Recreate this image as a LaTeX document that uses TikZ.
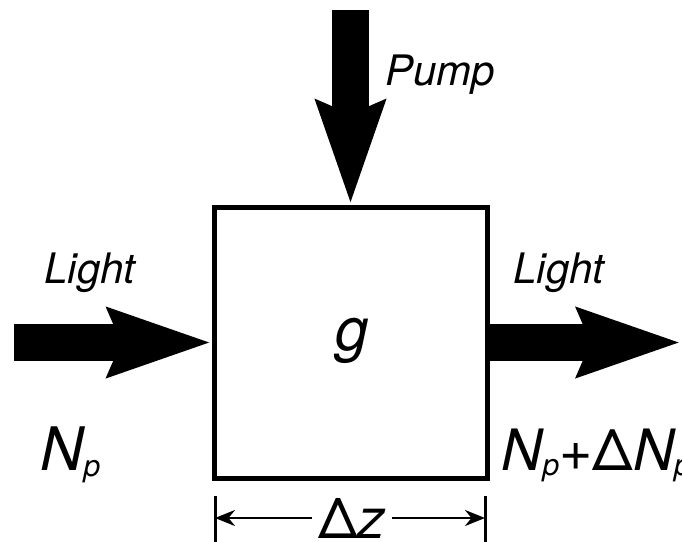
\documentclass[tikz,border=0pt]{standalone}
\usepackage{fontspec}
\setmainfont{TeX Gyre Heros}
\usetikzlibrary{arrows.meta}
\newcommand{\subp}{\raisebox{-0.1em}{\fontsize{15}{15}\selectfont p}}

\begin{document}
\begin{tikzpicture}[x=0.5pt, y=-0.5pt, >=Stealth,
    bigarrow/.style={line width=18.5pt, -{Stealth[length=51pt, width=33pt, inset=6pt]}},
    dimarrow/.style={line width=1.3pt, -{Stealth[length=10pt, width=8pt]}},
    lbl/.style={font=\fontsize{21}{21}\selectfont\itshape, inner sep=0pt},
    big/.style={font=\fontsize{30}{30}\selectfont\itshape, inner sep=0pt}]
    \useasboundingbox (0,0) rectangle (682,542);

    % box
    \node[draw, line width=2.5pt, inner sep=0pt, minimum width=136.5pt, minimum height=135.5pt] (box) at (350.5,342.5) {};
    \node[big, anchor=base] (g) at (352,350) {g};

    % labels
    \node[lbl, anchor=base west] (pump) at (385,85) {Pump};
    \node[lbl, anchor=base west] (lightin) at (44,283) {Light};
    \node[lbl, anchor=base west] (lightout) at (513,283) {Light};
    \node[big, anchor=base west] (nin) at (40,470) {N\subp};
    \node[big, font=\fontsize{28.5}{28.5}\selectfont\itshape, anchor=base west] (nout) at (501,470) {N\subp{\upshape +Δ}N\subp};

    % block arrows
    \coordinate (ptop) at (350.5,10);
    \coordinate (lin) at (14,342.5);
    \coordinate (rout) at (681,342.5);
    \draw[bigarrow] (ptop) -- (box.north);
    \draw[bigarrow] (lin) -- (box.west);
    \draw[bigarrow] (box.east) -- (rout);

    % dimension
    \coordinate (dl) at (215,518);
    \coordinate (dr) at (485,518);
    \draw[line width=1.5pt] (215,496) -- (215,542);
    \draw[line width=1.5pt] (485,496) -- (485,542);
    \node[big, font=\fontsize{28}{28}\selectfont\itshape, inner sep=3pt] (dz) at (352,518) {{\upshape Δ}z};
    \draw[dimarrow] (dz.west) -- (dl);
    \draw[dimarrow] (dz.east) -- (dr);
\end{tikzpicture}
\end{document}
